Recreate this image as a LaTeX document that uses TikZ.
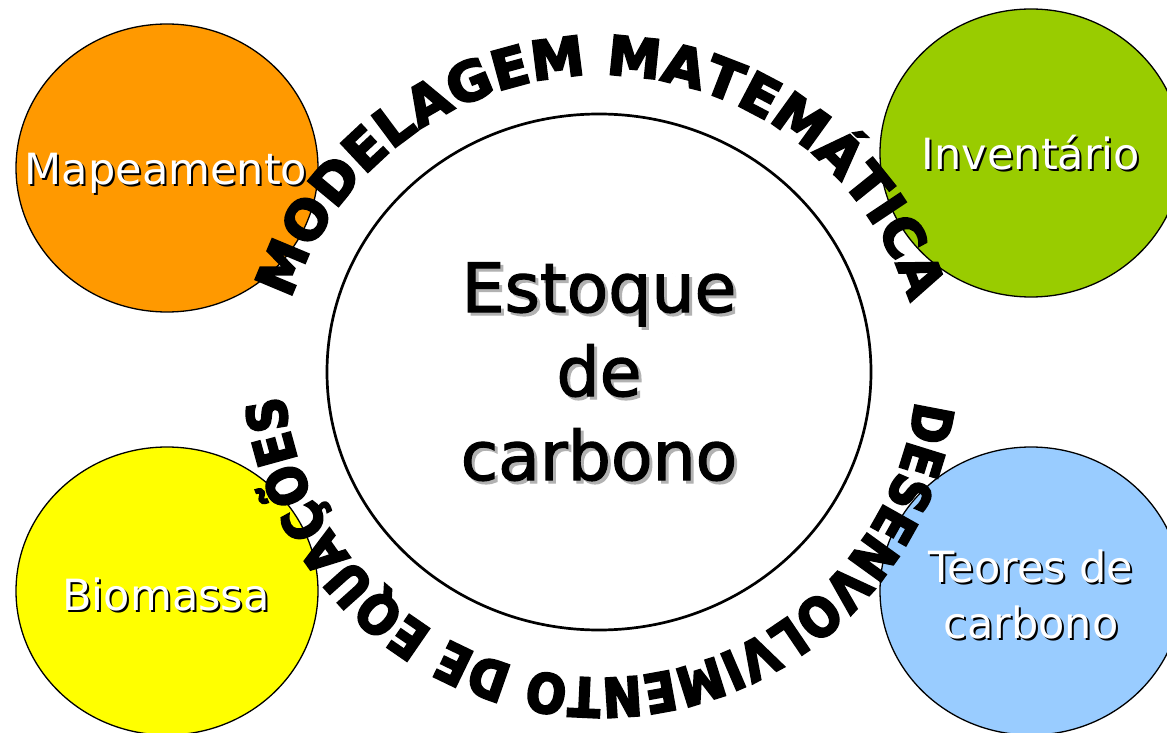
\documentclass[tikz,border=0pt]{standalone}
\usepackage{fontspec}
\setmainfont{DejaVu Sans}
\newfontfamily\midfont{DejaVu Sans}[FakeBold=1.8]
\newfontfamily\archtop{DejaVu Sans}[BoldFeatures={FakeBold=4}]
\newfontfamily\archbot{DejaVu Sans}[FakeStretch=0.87,BoldFeatures={FakeStretch=0.87,FakeBold=4}]
\usepackage{tikz}
\usetikzlibrary{shapes.geometric,decorations.text}

\definecolor{mapcol}{RGB}{255,153,0}
\definecolor{invcol}{RGB}{153,204,0}
\definecolor{biocol}{RGB}{255,255,0}
\definecolor{teocol}{RGB}{153,204,255}
\definecolor{shadegray}{RGB}{178,178,178}

\begin{document}
\begin{tikzpicture}[x=1pt,y=1pt,
	bubble/.style={draw, ellipse, line width=1.3pt, minimum width=302, minimum height=288, inner sep=0pt},
	lbl/.style={font=\fontsize{43}{56}\selectfont, text=white, align=center, anchor=base, inner sep=0pt},
	lblshade/.style={lbl, text=black, xshift=2, yshift=-2},
	midlbl/.style={font=\midfont\fontsize{68}{84}\selectfont, text=black, align=center, anchor=base, inner sep=0pt},
	midshade/.style={midlbl, text=shadegray, xshift=3, yshift=-3}]
		
			\useasboundingbox (0,0) rectangle (1167,732);
			
			\node[bubble, fill=mapcol] (map) at (167,564) {};
			\node[bubble, fill=invcol] (inv) at (1031,579) {};
			\node[bubble, fill=biocol] (bio) at (167,141) {};
			\node[bubble, fill=teocol] (teo) at (1031,141) {};
			
			\node[draw, ellipse, line width=2.7pt, fill=white, minimum width=544, minimum height=516] (stock) at (599,360) {};
			
			% base of a multi-line node = last line
			\node[midshade] (stockS) at (599,252) {Estoque\\de\\carbono};
			\node[midlbl] (stockT) at (599,252) {Estoque\\de\\carbono};
			
			\coordinate (arcTop) at (600,332);
			\coordinate (arcBot) at (600,372);
			
			\path[decorate, decoration={text along path, text align={fit to path},
				text={|\archtop\bfseries\fontsize{54}{60}\selectfont|MODELAGEM MATEMÁTICA}}]
			([shift={(162:325)}]arcTop) arc[start angle=162, end angle=17.5, radius=325];
			\path[decorate, decoration={text along path, text align={fit to path},
				text={|\archbot\bfseries\fontsize{54}{60}\selectfont|DESENVOLVIMENTO DE EQUAÇÕES}}]
			([shift={(-7.4:318)}]arcBot) arc[start angle=-7.4, end angle=-173.6, radius=318];
			
			\node[lblshade] (mapS) at (166,547) {Mapeamento};
			\node[lbl] (mapT) at (166,547) {Mapeamento};
			\node[lblshade] (invS) at (1031,562) {Inventário};
			\node[lbl] (invT) at (1031,562) {Inventário};
			\node[lblshade] (bioS) at (166,122) {Biomassa};
			\node[lbl] (bioT) at (166,122) {Biomassa};
			\node[lblshade] (teoS) at (1031,94) {Teores de\\carbono};
			\node[lbl] (teoT) at (1031,94) {Teores de\\carbono};
			
		\end{tikzpicture}
\end{document}
